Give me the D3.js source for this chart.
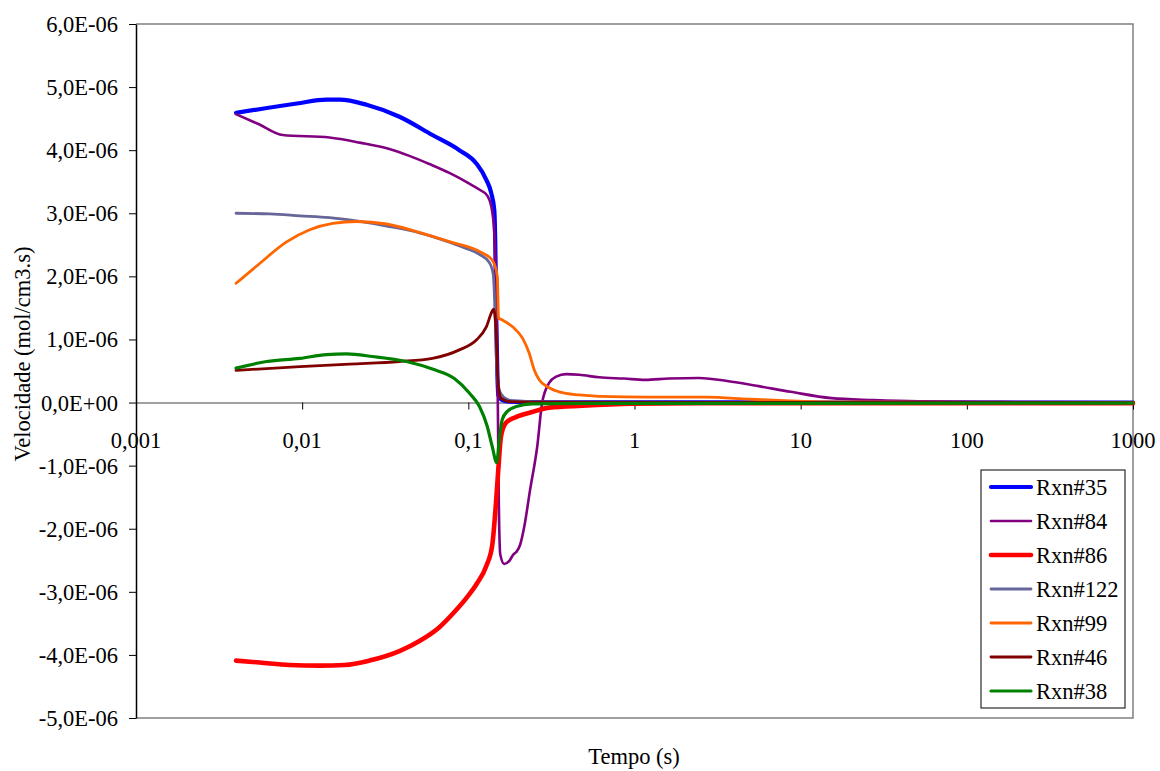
<!DOCTYPE html>
<html>
<head>
<meta charset="utf-8">
<script src="https://cdn.jsdelivr.net/npm/d3@7"></script>
<style>
html,body{margin:0;padding:0;background:#fff;}
svg{display:block;}
svg text{font-family:"Liberation Serif" !important;}
</style>
</head>
<body>
<svg id="chart" width="1160" height="771"></svg>
<script>
// ---- data (time in s, velocity in units of 1E-06 mol/cm3.s) ----
const seriesNames = ["Rxn#35","Rxn#84","Rxn#86","Rxn#122","Rxn#99","Rxn#46","Rxn#38"];

const t35 = [0.004,0.0093,0.014,0.0168,0.0244,0.0385,0.0608,0.0883,0.1117,0.1283,0.1374,0.1433,0.1453,0.1473,0.1494,0.1514,0.16,0.176,0.3,1,10,100,1000];
const v35 = [4.59,4.74,4.80,4.80,4.72,4.53,4.24,4.00,3.79,3.53,3.32,3.05,2.5,1.3,0.5,0.12,0.04,0.015,0.005,0.002,0.001,0,0];

const t84 = [0.004,0.0055,0.00764,0.0146,0.0222,0.0335,0.0442,0.0583,0.0769,0.1014,0.119,0.130,0.1374,0.1433,0.1473,0.1504,0.1525,0.1557,0.1645,0.1764,0.1865,0.1942,0.2053,0.217,0.2354,0.2597,0.2782,0.3064,0.3378,0.3878,0.4643,0.612,0.8645,1.157,1.61,2.44,3.85,5.59,8.71,15.3,27.4,51.2,154.5,1000];
const v84 = [4.57,4.41,4.24,4.20,4.12,4.02,3.91,3.78,3.64,3.47,3.36,3.28,3.11,2.69,1.74,0.04,-1.54,-2.41,-2.56,-2.51,-2.41,-2.37,-2.25,-1.97,-1.38,-0.70,0.0,0.31,0.41,0.45,0.44,0.40,0.38,0.36,0.38,0.39,0.33,0.26,0.17,0.07,0.04,0.02,0.01,0.005];

const t86 = [0.004,0.00555,0.00841,0.0127,0.018,0.0254,0.0385,0.0508,0.067,0.0824,0.0986,0.1132,0.1283,0.1393,0.1467,0.1514,0.1572,0.1684,0.1934,0.2424,0.3064,0.4839,0.966,2.44,1000];
const v86 = [-4.09,-4.12,-4.16,-4.17,-4.16,-4.09,-3.94,-3.78,-3.56,-3.32,-3.08,-2.86,-2.59,-2.26,-1.59,-1.07,-0.54,-0.32,-0.23,-0.15,-0.08,-0.05,-0.02,-0.01,-0.01];

const t122 = [0.004,0.0064,0.0097,0.0146,0.0222,0.0335,0.0508,0.0716,0.0953,0.1165,0.1337,0.1413,0.1453,0.1484,0.1535,0.160,0.1716,0.187,0.267,0.61,10,1000];
const v122 = [3.00,2.99,2.96,2.93,2.87,2.79,2.69,2.57,2.45,2.35,2.22,2.03,1.31,0.52,0.20,0.11,0.05,0.027,0.011,0.003,0.001,0];

const t99 = [0.004,0.0053,0.0081,0.0111,0.0153,0.0213,0.0322,0.0487,0.0769,0.1213,0.1393,0.1494,0.152,0.160,0.1846,0.2119,0.2325,0.2491,0.2669,0.2994,0.352,0.4643,0.612,1.22,2.72,4.87,8.71,15.3,100,1000];
const v99 = [1.89,2.16,2.55,2.74,2.84,2.87,2.83,2.71,2.55,2.37,2.26,2.00,1.34,1.31,1.20,1.02,0.78,0.52,0.36,0.25,0.17,0.12,0.098,0.085,0.085,0.054,0.027,0.011,0.002,0.001];

const t46 = [0.004,0.0097,0.0193,0.0385,0.0608,0.0883,0.1117,0.1283,0.1393,0.142,0.1467,0.1505,0.1572,0.1764,0.3,1000];
const v46 = [0.51,0.57,0.61,0.65,0.70,0.835,0.99,1.20,1.45,1.48,1.15,0.36,0.07,0.016,0.005,0];

const t38 = [0.004,0.00612,0.0097,0.014,0.0185,0.0265,0.0424,0.0608,0.0824,0.1014,0.1165,0.130,0.1393,0.1482,0.1535,0.160,0.1716,0.1942,0.2424,0.61,1000];
const v38 = [0.545,0.65,0.70,0.76,0.77,0.73,0.65,0.53,0.38,0.15,-0.06,-0.38,-0.70,-0.95,-0.59,-0.27,-0.14,-0.063,-0.02,-0.013,-0.01];

const seriesTimes = [t35,t84,t86,t122,t99,t46,t38];
const seriesValues = [v35,v84,v86,v122,v99,v46,v38];
const seriesColors = ["#0000ff","#800080","#ff0000","#666699","#ff6600","#800000","#008000"];
const seriesWidths = [4.2,2.6,4.6,2.8,2.8,2.8,3.2];

const xTicks = [0.001,0.01,0.1,1,10,100,1000];
const xTickLabels = ["0,001","0,01","0,1","1","10","100","1000"];
const yTicks = [6,5,4,3,2,1,0,-1,-2,-3,-4,-5];
const yTickLabels = ["6,0E-06","5,0E-06","4,0E-06","3,0E-06","2,0E-06","1,0E-06","0,0E+00","-1,0E-06","-2,0E-06","-3,0E-06","-4,0E-06","-5,0E-06"];

const FONT = "Liberation Serif";

// ---- layout ----
const svg = d3.select("#chart");
const L = 136, R = 1133, T = 24, B = 718;
const x = d3.scaleLog().domain([0.001,1000]).range([L,R]);
const y = d3.scaleLinear().domain([-5,6]).range([B,T]);

svg.append("rect").attr("width",1160).attr("height",771).attr("fill","#fff");

// plot frame (top, right, bottom in grey)
svg.append("path")
  .attr("d",`M${L},${T}H${R}V${B}H${L}`)
  .attr("fill","none").attr("stroke","#808080").attr("stroke-width",1.5);

// zero axis with decade ticks
const xAxis = d3.axisBottom(x).tickValues(xTicks).tickFormat("").tickSize(7).tickSizeOuter(0);
const gx = svg.append("g").attr("transform",`translate(0,${y(0)})`).call(xAxis);
gx.select(".domain").attr("stroke","#808080").attr("stroke-width",1.5);
gx.selectAll(".tick line").attr("stroke","#000").attr("stroke-width",1);
gx.selectAll(".tick text").remove();

// x tick labels
const textLayer = svg.append("g").style("font-family",FONT);
textLayer.append("g").selectAll("text").data(xTicks).join("text")
  .style("font-family",FONT)
  .attr("x",d=>x(d)).attr("y",y(0)+45)
  .attr("text-anchor","middle").style("font-size","22.5px")
  .text((d,i)=>xTickLabels[i]);

// left axis
const yAxis = d3.axisLeft(y).tickValues(yTicks).tickFormat("").tickSize(7).tickSizeOuter(0);
const gy = svg.append("g").attr("transform",`translate(${L},0)`).call(yAxis);
gy.select(".domain").attr("stroke","#000").attr("stroke-width",1.5);
gy.selectAll(".tick line").attr("stroke","#000").attr("stroke-width",1);
gy.selectAll(".tick text").remove();

textLayer.append("g").selectAll("text").data(yTicks).join("text")
  .style("font-family",FONT)
  .attr("x",L-18).attr("y",d=>y(d)+8)
  .attr("text-anchor","end").style("font-size","22.5px")
  .text((d,i)=>yTickLabels[i]);

// axis titles
textLayer.append("text").style("font-family",FONT).attr("x",634).attr("y",764).attr("text-anchor","middle")
  .style("font-size","22.5px").text("Tempo (s)");
textLayer.append("text").style("font-family",FONT).attr("transform","translate(30,354) rotate(-90)")
  .attr("text-anchor","middle").style("font-size","22.5px").text("Velocidade (mol/cm3.s)");

// series
const line = d3.line().x(d=>x(d[0])).y(d=>y(d[1])).curve(d3.curveMonotoneX);
const plot = svg.append("g");
seriesNames.forEach((name,i)=>{
  const pts = seriesTimes[i].map((t,j)=>[t,seriesValues[i][j]]);
  plot.append("path").datum(pts)
    .attr("d",line)
    .attr("fill","none")
    .attr("stroke",seriesColors[i])
    .attr("stroke-width",seriesWidths[i])
    .attr("stroke-linejoin","round")
    .attr("stroke-linecap","round");
});

// legend
const lg = svg.append("g");
lg.append("rect").attr("x",981).attr("y",470).attr("width",144).attr("height",238)
  .attr("fill","#fff").attr("stroke","#000").attr("stroke-width",1);
seriesNames.forEach((name,i)=>{
  const cy = 487 + i*34;
  lg.append("line").attr("x1",991).attr("x2",1031).attr("y1",cy).attr("y2",cy)
    .attr("stroke",seriesColors[i]).attr("stroke-width",seriesWidths[i]).attr("stroke-linecap","round");
  lg.append("text").style("font-family",FONT).attr("x",1036).attr("y",cy+8).style("font-size","22.5px").text(name);
});
</script>
</body>
</html>
